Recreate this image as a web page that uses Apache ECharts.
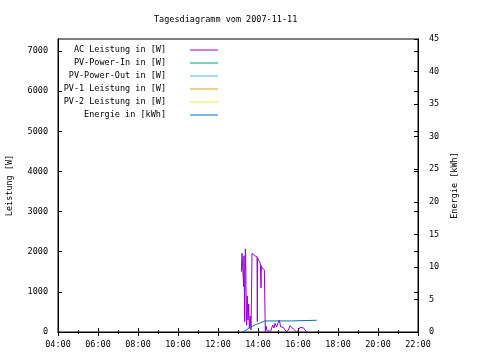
<!DOCTYPE html>
<html>
<head>
<meta charset="utf-8">
<script src="https://cdn.jsdelivr.net/npm/echarts@6/dist/echarts.min.js"></script>
<style>html,body{margin:0;padding:0;background:#fff}#c{width:480px;height:360px}</style>
</head>
<body>
<div id="c"></div>
<script>
var titleText = 'Tagesdiagramm vom 2007-11-11';
var xTickLabels = ['04:00','06:00','08:00','10:00','12:00','14:00','16:00','18:00','20:00','22:00'];
var seriesNames = ['AC Leistung in [W]','PV-Power-In in [W]','PV-Power-Out in [W]','PV-1 Leistung in [W]','PV-2 Leistung in [W]','Energie in [kWh]'];
var seriesColors = ['#9400d3','#009e73','#56b4e9','#e69f00','#f0e442','#0072b2'];

var acTimes = ['13:10','13:11','13:12','13:14','13:16','13:17','13:18','13:20','13:22','13:23','13:24','13:26','13:28','13:30','13:32','13:34','13:37','13:39','13:41','13:42','13:45','13:48','13:50','13:52','13:55','13:57','13:58','13:59','14:01','14:03','14:05','14:07','14:09','14:10','14:12','14:14','14:16','14:19','14:22','14:24','14:27','14:31','14:38','14:44','14:48','14:51','14:56','15:01','15:04','15:08','15:11','15:16','15:21','15:26','15:31','15:36','15:41','15:46','15:51','15:56','16:01','16:06','16:11','16:16','16:21','16:26'];
var acValues = [1500,1720,1960,1940,1990,1130,1900,260,2070,1950,1130,170,900,300,700,100,400,50,1200,1960,2000,1930,1900,1920,1900,1880,260,1850,1800,1780,1750,1700,1100,1650,1600,1560,1580,1550,0,150,30,0,20,175,100,215,130,175,300,130,175,115,50,0,50,160,130,75,50,0,50,115,115,105,75,0];

var pvInTimes = [], pvInValues = [];
var pvOutTimes = [], pvOutValues = [];
var pv1Times = [], pv1Values = [];
var pv2Times = [], pv2Values = [];

var energyTimes = ['13:14','13:24','13:34','13:44','13:54','14:04','14:14','14:21','15:40','15:41','16:56'];
var energyValues = [0,0.3,0.6,0.9,1.15,1.35,1.55,1.7,1.7,1.8,1.8];

function toHours(s){var p=s.split(':');return +p[0]+(+p[1])/60;}
function pairs(t,v){return t.map(function(s,i){return [toHours(s),v[i]];});}

var FONT = 'DejaVu Sans Mono';
var FS = 8.5;
var chart = echarts.init(document.getElementById('c'), null, {renderer:'canvas'});

function xAx(pos, showLabel){
  return {
    type:'value', position:pos, min:4, max:22, interval:2,
    axisLine:{show:true,lineStyle:{color:'#000',width:1}},
    axisTick:{show:true,inside:true,length:4,lineStyle:{color:'#000'}},
    minorTick:{show:true,splitNumber:2,length:2,lineStyle:{color:'#000'}},
    splitLine:{show:false},
    axisLabel:{show:showLabel,margin:8,color:'#000',fontFamily:FONT,fontSize:FS,
      formatter:function(v){var i=Math.round((v-4)/2);return xTickLabels[i]||'';}}
  };
}
function plain(v){return String(v);}

var seriesData = [pairs(acTimes,acValues),pairs(pvInTimes,pvInValues),pairs(pvOutTimes,pvOutValues),pairs(pv1Times,pv1Values),pairs(pv2Times,pv2Values),pairs(energyTimes,energyValues)];

var option = {
  animation:false,
  backgroundColor:'#fff',
  title:{text:titleText,left:154,top:15,padding:0,textStyle:{fontFamily:FONT,fontSize:FS,fontWeight:'normal',color:'#000'}},
  grid:{left:58,right:62,top:39,bottom:28,show:true,borderColor:'#000',borderWidth:1,containLabel:false,outerBoundsMode:'none'},
  legend:{orient:'vertical',align:'right',right:262,top:45,itemWidth:28,itemHeight:1,itemGap:3,padding:0,icon:'rect',
    textStyle:{fontFamily:FONT,fontSize:FS,color:'#000',lineHeight:10,padding:[0,19,0,0]},
    data:seriesNames},
  xAxis:[xAx('bottom',true), xAx('top',false)],
  yAxis:[
    {type:'value',position:'left',min:0,max:7300,interval:1000,
      name:'Leistung [W]',nameLocation:'middle',nameRotate:90,nameGap:44,
      nameTextStyle:{fontFamily:FONT,fontSize:FS,color:'#000'},
      axisLine:{show:true,lineStyle:{color:'#000'}},
      axisTick:{show:true,inside:true,length:4,lineStyle:{color:'#000'}},
      splitLine:{show:false},
      axisLabel:{margin:10,color:'#000',fontFamily:FONT,fontSize:FS,showMaxLabel:false,formatter:plain}},
    {type:'value',position:'right',min:0,max:45,interval:5,
      name:'Energie [kWh]',nameLocation:'middle',nameRotate:90,nameGap:24,
      nameTextStyle:{fontFamily:FONT,fontSize:FS,color:'#000'},
      axisLine:{show:true,lineStyle:{color:'#000'}},
      axisTick:{show:true,inside:true,length:4,lineStyle:{color:'#000'}},
      splitLine:{show:false},
      axisLabel:{margin:11,color:'#000',fontFamily:FONT,fontSize:FS,formatter:plain}},
    {type:'value',position:'right',min:0,max:7300,interval:1000,
      axisLine:{show:true,lineStyle:{color:'#000'}},
      axisTick:{show:true,inside:true,length:4,lineStyle:{color:'#000'}},
      splitLine:{show:false},
      axisLabel:{show:false}}
  ],
  series: seriesNames.map(function(n,i){
    return {name:n,type:'line',yAxisIndex:(i===5?1:0),data:seriesData[i],symbol:'none',showSymbol:false,
      color:seriesColors[i],lineStyle:{width:1,color:seriesColors[i]},itemStyle:{color:seriesColors[i]}};
  })
};
chart.setOption(option);
</script>
</body>
</html>
